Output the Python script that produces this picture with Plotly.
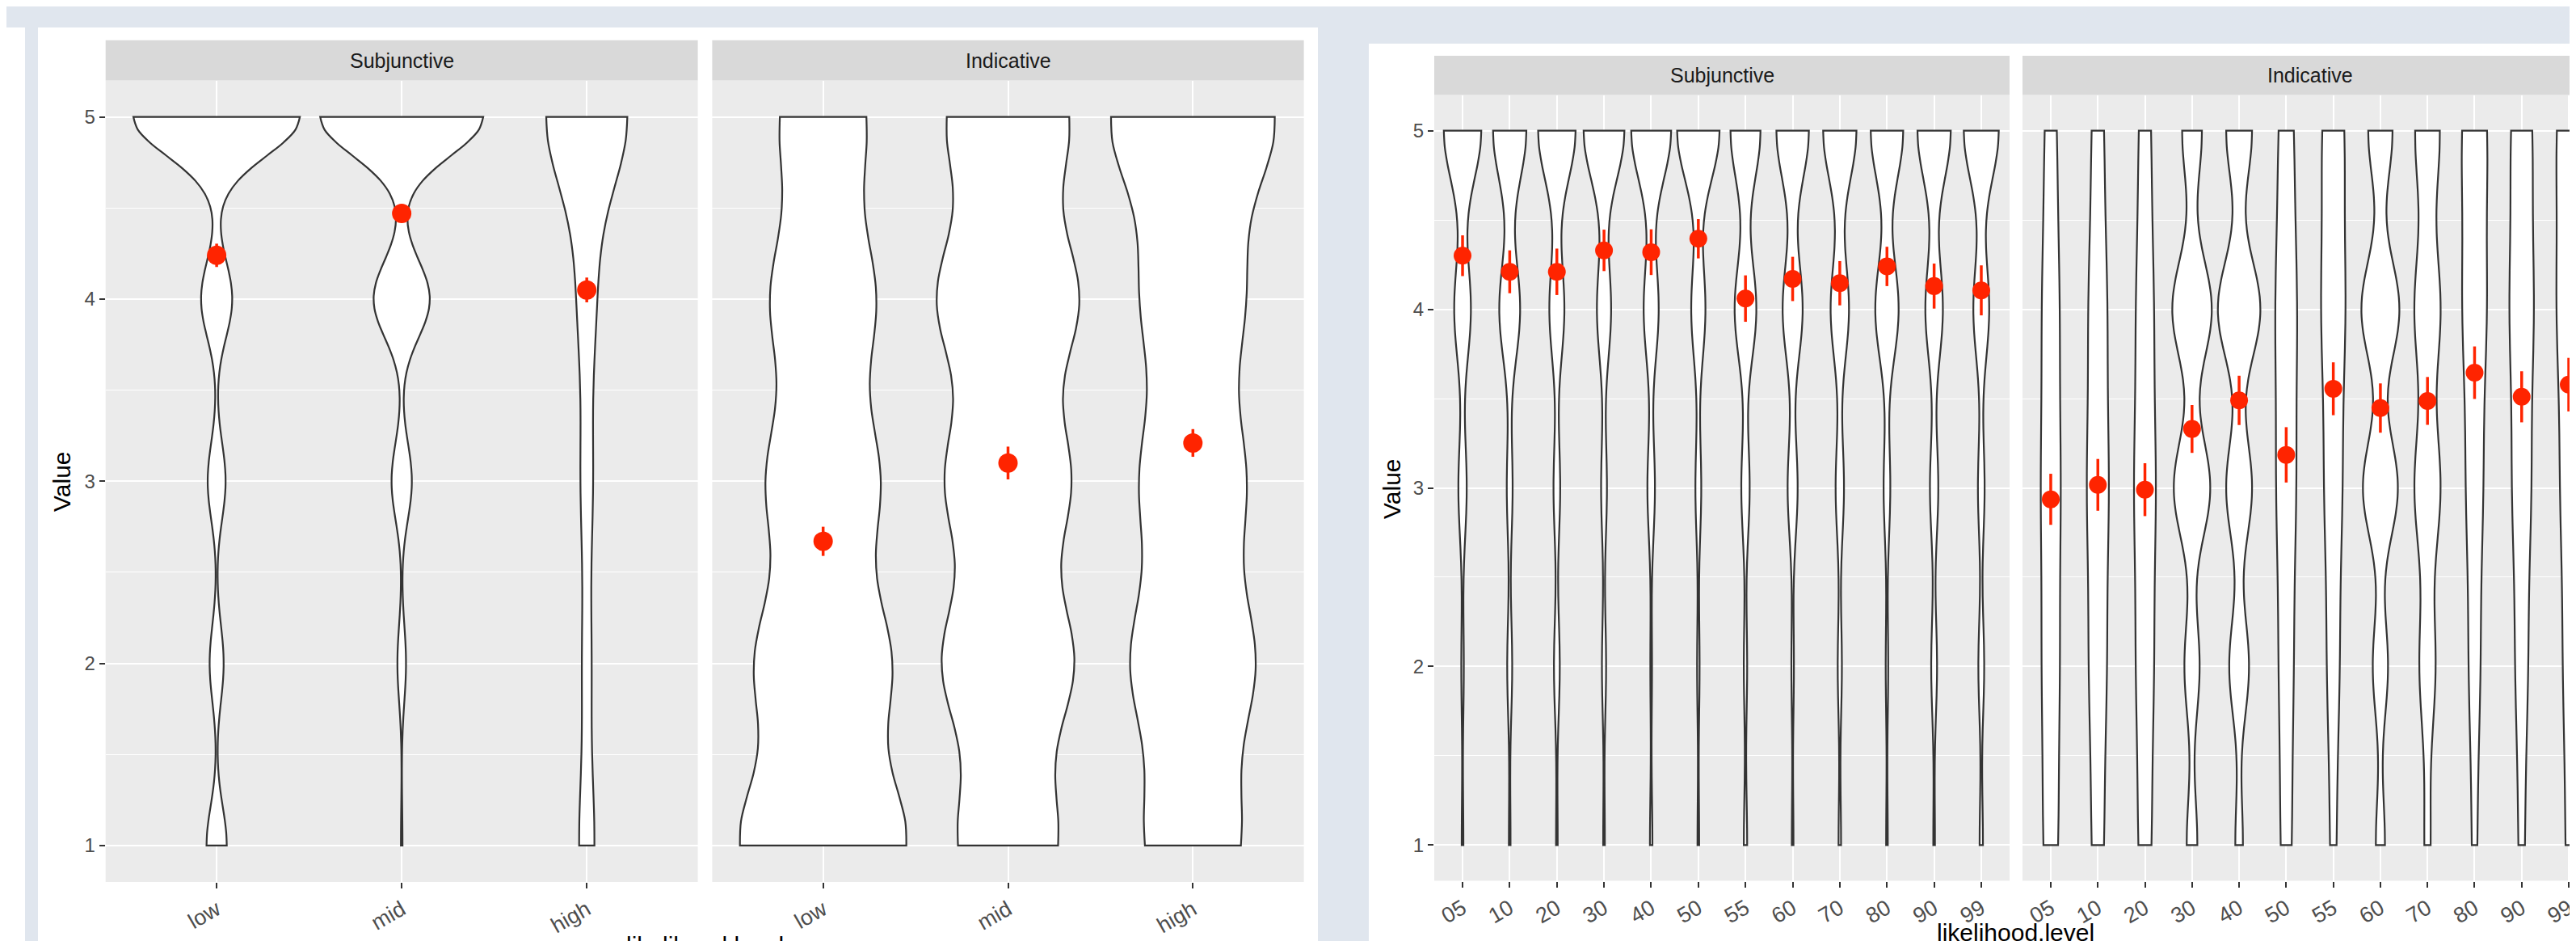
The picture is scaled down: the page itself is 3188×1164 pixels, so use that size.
import numpy as np
import plotly.graph_objects as go

# ---------------- data ----------------
LEVELS = [1, 2, 3, 4, 5]

# Left chart: likelihood groups
L_CATS = ["low", "mid", "high"]
# response counts at levels 1..5 for each violin
L_SUBJ_COUNTS = [[26, 18, 23, 40, 214],
                 [2, 11, 26, 72, 209],
                 [36, 21, 28, 42, 194]]
L_INDIC_COUNTS = [[90, 71, 59, 55, 46],
                  [52, 68, 64, 73, 64],
                  [52, 67, 56, 54, 92]]
L_SUBJ_MEAN = [4.24, 4.47, 4.05]
L_SUBJ_SE = [0.064, 0.048, 0.068]
L_INDIC_MEAN = [2.67, 3.10, 3.21]
L_INDIC_SE = [0.08, 0.09, 0.076]

# Right chart: likelihood levels
R_CATS = ["05", "10", "20", "30", "40", "50", "55", "60", "70", "80", "90", "99"]
R_SUBJ_COUNTS = [[2, 3, 10, 20, 45], [2, 6, 7, 25, 40], [2, 7, 8, 18, 45],
                 [2, 5, 7, 17, 49], [3, 2, 9, 18, 48], [2, 3, 7, 17, 51],
                 [4, 4, 10, 26, 36], [2, 3, 12, 24, 39], [3, 5, 10, 22, 40],
                 [2, 3, 8, 28, 39], [2, 7, 10, 21, 40], [4, 7, 8, 19, 42]]
R_INDIC_COUNTS = [[15, 17, 19, 17, 12], [12, 17, 21, 18, 12], [13, 17, 21, 17, 12],
                  [7, 10, 24, 26, 13], [5, 13, 17, 28, 17], [11, 14, 19, 21, 15],
                  [6, 12, 17, 23, 22], [6, 10, 23, 25, 16], [5, 13, 21, 21, 20],
                  [5, 11, 16, 23, 25], [6, 12, 18, 23, 21], [6, 11, 16, 23, 24]]
R_SUBJ_MEAN = [4.30, 4.21, 4.21, 4.33, 4.32, 4.395, 4.06, 4.17, 4.146, 4.24, 4.13, 4.106]
R_SUBJ_SE = [0.114, 0.12, 0.13, 0.116, 0.128, 0.11, 0.13, 0.124, 0.124, 0.11, 0.126, 0.14]
R_INDIC_MEAN = [2.936, 3.017, 2.99, 3.33, 3.49, 3.185, 3.555, 3.447, 3.487, 3.645, 3.51, 3.578]
R_INDIC_SE = [0.143, 0.145, 0.148, 0.134, 0.138, 0.155, 0.148, 0.138, 0.134, 0.147, 0.143, 0.15]

FACETS = ["Subjunctive", "Indicative"]
X_TITLE = "likelihood.level"
Y_TITLE = "Value"
Y_TICKS = [1, 2, 3, 4, 5]
Y_MINOR = [1.5, 2.5, 3.5, 4.5]

# ---------------- style / layout constants ----------------
W, H = 3188, 1164
BG = "#E0E6EE"
PANEL = "#EBEBEB"
STRIP = "#D9D9D9"
RED = "#FF2400"
OUTLINE = "#333333"
FONT = "Liberation Sans, Arial, Helvetica, sans-serif"

# pixel geometry (from top-left)
EDGE_WHITE = (0, 26, 23, 1164)
LEFT_WHITE = (39, 26, 1623, 1164)
RIGHT_WHITE = (1686, 46, 3188, 1164)
L_PANELS = [(122.7, 855.6), (873.4, 1605.6)]
L_PLOT_Y = (91.5, 1083)
L_STRIP_Y = (41.7, 91.5)
R_PANELS = [(1767, 2479), (2495, 3206)]
R_PLOT_Y = (109.5, 1081.5)
R_STRIP_Y = (61, 109.5)


def px_x(x):
    return x / W


def px_y(y):
    return 1 - y / H


def nrd0(x):
    x = np.asarray(x, float)
    hi = x.std(ddof=1)
    q75, q25 = np.percentile(x, [75, 25])
    lo = min(hi, (q75 - q25) / 1.34)
    if not lo:
        lo = hi or abs(x[0]) or 1.0
    return 0.9 * lo * len(x) ** -0.2


fig = go.Figure()

panels = [
    # (cats, counts, means, ses, axis idx, panel px, plot y, group, marker size)
    (L_CATS, L_SUBJ_COUNTS, L_SUBJ_MEAN, L_SUBJ_SE, 1, L_PANELS[0], L_PLOT_Y, "LS", 24),
    (L_CATS, L_INDIC_COUNTS, L_INDIC_MEAN, L_INDIC_SE, 2, L_PANELS[1], L_PLOT_Y, "LI", 24),
    (R_CATS, R_SUBJ_COUNTS, R_SUBJ_MEAN, R_SUBJ_SE, 3, R_PANELS[0], R_PLOT_Y, "RS", 22),
    (R_CATS, R_INDIC_COUNTS, R_INDIC_MEAN, R_INDIC_SE, 4, R_PANELS[1], R_PLOT_Y, "RI", 22),
]

shapes = []
annotations = []

# white canvases
for (x0, y0, x1, y1) in (EDGE_WHITE, LEFT_WHITE, RIGHT_WHITE):
    shapes.append(dict(type="rect", xref="paper", yref="paper", layer="below",
                       x0=px_x(x0), x1=px_x(x1), y0=px_y(y1), y1=px_y(y0),
                       fillcolor="white", line=dict(width=0)))

layout_axes = {}
for cats, counts, means, ses, k, (px0, px1), (py0, py1), grp, msize in panels:
    xa = "x" if k == 1 else f"x{k}"
    ya = "y" if k == 1 else f"y{k}"
    ncat = len(cats)
    full_units = ncat - 1 + 1.2
    unit = (px1 - px0) / full_units
    vis_px1 = min(px1, W)
    xr = [-0.6, -0.6 + (vis_px1 - px0) / unit]

    for cat, cnt in zip(cats, counts):
        vals = np.repeat(LEVELS, cnt).astype(float)
        fig.add_trace(go.Violin(
            x=[cat] * len(vals), y=vals, xaxis=xa, yaxis=ya,
            bandwidth=nrd0(vals), spanmode="hard",
            scalemode="width", scalegroup=grp,
            fillcolor="white", line=dict(color=OUTLINE, width=2.2),
            points=False, box_visible=False, meanline_visible=False,
            hoverinfo="skip", showlegend=False))
    fig.add_trace(go.Scatter(
        x=cats, y=means, xaxis=xa, yaxis=ya, mode="markers",
        marker=dict(color=RED, size=msize, line=dict(width=0)),
        error_y=dict(type="data", array=ses, visible=True, color=RED,
                     thickness=3.5, width=0),
        hoverinfo="skip", showlegend=False))

    # panel background
    shapes.append(dict(type="rect", xref="paper", yref="paper", layer="below",
                       x0=px_x(px0), x1=px_x(vis_px1), y0=px_y(py1), y1=px_y(py0),
                       fillcolor=PANEL, line=dict(width=0)))

    first = k in (1, 3)
    layout_axes["xaxis" if k == 1 else f"xaxis{k}"] = dict(
        domain=[px_x(px0), px_x(vis_px1)], anchor=ya, type="category",
        categoryorder="array", categoryarray=cats, range=xr,
        showgrid=True, gridcolor="white", gridwidth=2,
        ticks="outside", ticklen=7, tickwidth=1.8, tickcolor=OUTLINE,
        tickangle=-30, tickfont=dict(family=FONT, size=27, color="#4D4D4D"),
        showline=False, zeroline=False, fixedrange=True)
    layout_axes["yaxis" if k == 1 else f"yaxis{k}"] = dict(
        domain=[px_y(py1), px_y(py0)], anchor=xa, range=[0.8, 5.2],
        tickvals=Y_TICKS, ticktext=[str(v) for v in Y_TICKS],
        showgrid=True, gridcolor="white", gridwidth=2.2,
        minor=dict(tickvals=Y_MINOR, showgrid=True, gridcolor="white", gridwidth=1.1, ticks=""),
        ticks="outside" if first else "", ticklen=7, tickwidth=1.8, tickcolor=OUTLINE,
        showticklabels=first,
        tickfont=dict(family=FONT, size=24, color="#4D4D4D"),
        showline=False, zeroline=False, fixedrange=True)

# strips
for (panels_px, strip_y) in ((L_PANELS, L_STRIP_Y), (R_PANELS, R_STRIP_Y)):
    for name, (px0, px1) in zip(FACETS, panels_px):
        shapes.append(dict(type="rect", xref="paper", yref="paper", layer="below",
                           x0=px_x(px0), x1=px_x(min(px1, W)),
                           y0=px_y(strip_y[1]), y1=px_y(strip_y[0]),
                           fillcolor=STRIP, line=dict(width=0)))
        annotations.append(dict(text=name, xref="paper", yref="paper",
                                x=px_x((px0 + px1) / 2), y=px_y((strip_y[0] + strip_y[1]) / 2),
                                xanchor="center", yanchor="middle", showarrow=False,
                                font=dict(family=FONT, size=25, color="#1A1A1A")))

# axis titles
annotations += [
    dict(text=Y_TITLE, xref="paper", yref="paper", x=px_x(68), y=px_y(588),
         textangle=-90, xanchor="center", yanchor="middle", showarrow=False,
         font=dict(family=FONT, size=30, color="black")),
    dict(text=Y_TITLE, xref="paper", yref="paper", x=px_x(1714), y=px_y(597),
         textangle=-90, xanchor="center", yanchor="middle", showarrow=False,
         font=dict(family=FONT, size=30, color="black")),
    dict(text=X_TITLE, xref="paper", yref="paper",
         x=px_x((L_PANELS[0][0] + L_PANELS[1][1]) / 2), y=px_y(1143),
         xanchor="center", yanchor="top", showarrow=False,
         font=dict(family=FONT, size=30, color="black")),
    dict(text=X_TITLE, xref="paper", yref="paper",
         x=px_x((R_PANELS[0][0] + R_PANELS[1][1]) / 2), y=0,
         xanchor="center", yanchor="bottom", showarrow=False,
         font=dict(family=FONT, size=30, color="black")),
]

fig.update_layout(
    width=W, height=H, margin=dict(l=0, r=0, t=0, b=0),
    paper_bgcolor=BG, plot_bgcolor="rgba(0,0,0,0)",
    violinmode="overlay", violingap=0.1, violingroupgap=0,
    shapes=shapes, annotations=annotations, showlegend=False,
    font=dict(family=FONT),
    **layout_axes)

fig.write_html("out.html")
